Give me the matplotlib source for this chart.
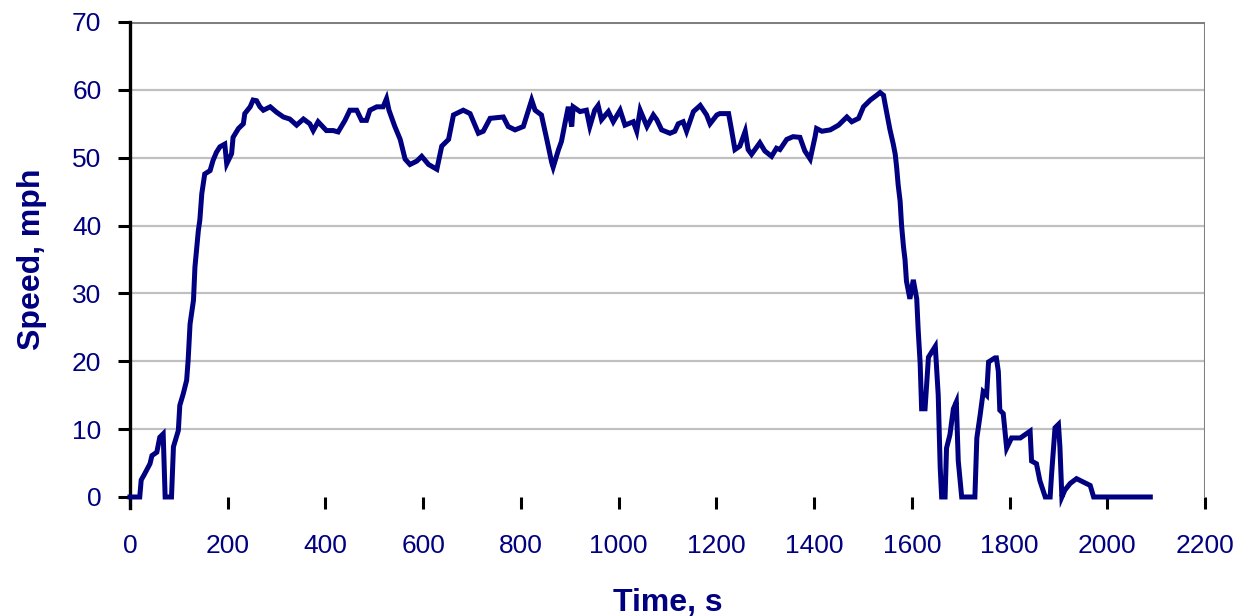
import matplotlib
matplotlib.use("Agg")
import matplotlib.pyplot as plt

# speed trace
time_s = [0, 20, 23, 30, 41, 45, 55, 61, 68, 72, 85, 89, 99, 102, 109, 116, 119, 123, 130, 133,
          140, 143, 147, 153, 164, 170, 177, 184, 194, 198, 208, 211, 222, 232, 235, 246, 252, 259,
          266, 273, 287, 300, 314, 327, 341, 355, 368, 375, 385, 402, 416, 426, 440, 450, 464, 474,
          484, 491, 505, 518, 525, 530, 542, 553, 563, 573, 587, 597, 611, 628, 638, 652, 662, 682,
          696, 713, 723, 737, 764, 774, 788, 805, 822, 829, 842, 853, 863, 866, 877, 883, 890, 897,
          904, 907, 921, 934, 941, 951, 958, 965, 979, 989, 1003, 1013, 1030, 1037, 1044, 1058,
          1071, 1078, 1088, 1105, 1115, 1122, 1132, 1139, 1153, 1167, 1180, 1187, 1201, 1207, 1225,
          1231, 1238, 1248, 1259, 1265, 1272, 1289, 1299, 1313, 1323, 1330, 1344, 1357, 1371, 1381,
          1392, 1402, 1405, 1416, 1433, 1450, 1467, 1477, 1491, 1501, 1515, 1528, 1535, 1542, 1545,
          1552, 1555, 1562, 1566, 1569, 1572, 1576, 1579, 1583, 1586, 1589, 1596, 1603, 1610, 1613,
          1617, 1620, 1627, 1634, 1648, 1654, 1658, 1661, 1668, 1671, 1678, 1685, 1691, 1695, 1702,
          1729, 1733, 1740, 1746, 1753, 1757, 1770, 1773, 1777, 1780, 1787, 1794, 1804, 1822, 1832,
          1842, 1845, 1855, 1862, 1873, 1883, 1886, 1893, 1900, 1903, 1907, 1913, 1924, 1937, 1951,
          1965, 1972, 2088]
speed_mph = [0, 0, 2.5, 3.4, 4.9, 6.1, 6.6, 8.8, 9.3, 0, 0, 7.4, 9.8, 13.5, 15.2, 17.2, 20.1, 25.5, 29, 33.9,
             39.3, 40.8, 44.7, 47.6, 48.1, 49.6, 50.8, 51.6, 52, 49.1, 50.6, 53, 54.3, 55, 56.5, 57.5, 58.5, 58.4,
             57.5, 57, 57.5, 56.7, 56, 55.7, 54.8, 55.7, 55, 54, 55.3, 54, 54, 53.8, 55.5, 57, 57, 55.5,
             55.5, 57, 57.5, 57.5, 58.7, 57, 54.6, 52.7, 49.8, 49, 49.5, 50.2, 49, 48.3, 51.7, 52.7, 56.3, 57,
             56.5, 53.6, 53.9, 55.8, 56, 54.6, 54.1, 54.6, 58.5, 57, 56.3, 52.7, 49.3, 48.6, 51.2, 52.4, 55, 57.5,
             54.6, 57.5, 56.8, 57, 54.6, 57, 57.7, 55.6, 56.8, 55.3, 57, 54.8, 55.3, 53.9, 57, 54.6,
             56.3, 55.6, 54.1, 53.6, 53.9, 55, 55.3, 53.9, 56.8, 57.7, 56.3, 55, 56.3, 56.5, 56.5,
             54.1, 51.2, 51.7, 53.9, 51.2, 50.5, 52.2, 51, 50.2, 51.4, 51.2, 52.7, 53.1, 53, 51,
             49.8, 53.1, 54.3, 53.9, 54.1, 54.8, 56, 55.3, 55.8, 57.5, 58.5, 59.2, 59.6, 59.2, 58,
             55.3, 54.2, 52, 50.5, 48.5, 46, 43.6, 40, 36.8, 35, 31.8, 29.2, 32, 29.2, 24.6,
             19.7, 13, 13, 20.6, 22.2, 15, 4.4, 0, 0, 7.2, 9.2, 13, 14, 5.3, 0,
             0, 8.7, 12.2, 15.5, 15, 19.9, 20.5, 20.5, 18.5, 12.8, 12.3, 7.2, 8.7, 8.7, 9.2,
             9.7, 5.3, 4.9, 2.4, 0, 0, 3.4, 10.2, 10.7, 7.4, 0, 1, 2, 2.7, 2.2,
             1.7, 0, 0]

x_ticks = list(range(0, 2201, 200))
y_ticks = list(range(0, 71, 10))

navy = '#000080'
plt.rcParams['font.family'] = ['Liberation Sans', 'DejaVu Sans']

fig = plt.figure(figsize=(12.52, 6.16), dpi=100)
ax = fig.add_axes([0.1038, 0.1932, 0.8587, 0.7711])

ax.set_xlim(0, 2200)
ax.set_ylim(0, 70)

# light gray gridlines, darker plot-area border at top/right
for y in y_ticks[1:-1]:
    ax.axhline(y, color='#c0c0c0', lw=1.6, zorder=1)
ax.axhline(70, color='#808080', lw=2.2, zorder=1)
ax.axvline(2200, color='#808080', lw=2.2, zorder=1)

ax.plot(time_s, speed_mph, color=navy, lw=3.6, clip_on=False, zorder=3,
        solid_joinstyle='miter')

for side in ['top', 'right', 'bottom']:
    ax.spines[side].set_visible(False)
ax.spines['left'].set_color('black')
ax.spines['left'].set_linewidth(2.4)
ax.spines['left'].set_bounds(-1.6, 70)

ax.set_xticks(x_ticks)
ax.set_yticks(y_ticks)
ax.tick_params(axis='both', direction='out', length=8.5, width=2.2, color='black',
               labelcolor=navy, labelsize=19)
ax.tick_params(axis='y', pad=12)
ax.tick_params(axis='x', pad=18)

ax.set_xlabel('Time, s', fontsize=23, weight='bold', color=navy, labelpad=22)
ax.set_ylabel('Speed, mph', fontsize=23, weight='bold', color=navy, labelpad=18)

plt.savefig('out.png', dpi=100)
plt.close()
